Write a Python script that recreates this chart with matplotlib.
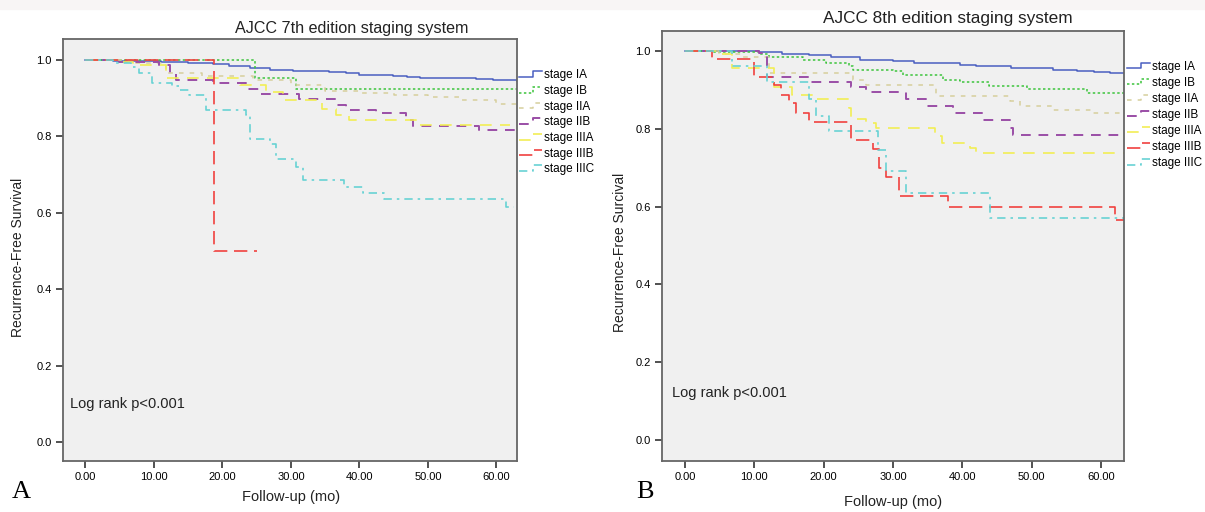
import matplotlib
matplotlib.use("Agg")
import matplotlib.pyplot as plt
from matplotlib.lines import Line2D
from matplotlib.legend_handler import HandlerLine2D
from matplotlib.patches import Rectangle

plt.rcParams['font.family'] = ['Liberation Sans', 'DejaVu Sans']

stages = ["stage IA", "stage IB", "stage IIA", "stage IIB", "stage IIIA", "stage IIIB", "stage IIIC"]

# AJCC 7th edition (panel A): step times (months) and survival
t7_IA = [0, 4, 8, 11, 15, 18.6, 21, 24, 27, 30.3, 33, 35.6, 38, 40, 43, 44.9, 47, 48.8, 52, 54.6, 57, 59.5, 63]
s7_IA = [1.0, 0.998, 0.997, 0.996, 0.993, 0.989, 0.985, 0.978, 0.975, 0.972, 0.970, 0.968, 0.965, 0.962,
         0.960, 0.958, 0.956, 0.954, 0.953, 0.952, 0.950, 0.947, 0.946]
t7_IB = [0, 24.8, 30.7, 63]
s7_IB = [1.0, 0.952, 0.925, 0.925]
t7_IIA = [0, 6.9, 11.8, 17, 24.4, 30, 35, 40, 45, 50, 54.6, 60, 63]
s7_IIA = [1.0, 0.991, 0.965, 0.958, 0.947, 0.935, 0.920, 0.913, 0.908, 0.902, 0.895, 0.885, 0.879]
t7_IIB = [0, 4, 10.8, 12.3, 13.2, 18.6, 23.5, 25.4, 31.2, 36.6, 38, 42.4, 46.8, 47.8, 57.5, 63]
s7_IIB = [1.0, 0.995, 0.987, 0.965, 0.947, 0.939, 0.925, 0.912, 0.899, 0.882, 0.870, 0.860, 0.842, 0.826,
          0.818, 0.818]
t7_IIIA = [0, 5, 6.9, 11.8, 22.5, 26.4, 28.8, 34.6, 36.6, 38.5, 48.5, 62]
s7_IIIA = [1.0, 0.996, 0.987, 0.952, 0.934, 0.917, 0.895, 0.873, 0.855, 0.842, 0.829, 0.829]
t7_IIIB = [0, 18.8, 25]
s7_IIIB = [1.0, 0.5, 0.5]
t7_IIIC = [0, 4, 6.7, 7.9, 9.8, 12.7, 13.7, 15.2, 17.6, 23.5, 24, 26.9, 27.8, 30.7, 31.7, 37.8, 40.5, 43.6,
           61.4, 62.5]
s7_IIIC = [1.0, 0.991, 0.982, 0.967, 0.940, 0.932, 0.921, 0.908, 0.870, 0.855, 0.794, 0.781, 0.741, 0.719,
           0.686, 0.668, 0.651, 0.636, 0.614, 0.614]

# AJCC 8th edition (panel B)
t8_IA = [0, 5, 10.7, 14, 17.9, 21, 25.2, 30, 33, 36.2, 39.6, 42, 44.4, 47, 49.3, 53, 56.5, 59, 61.3, 63.5]
s8_IA = [1.0, 0.999, 0.996, 0.993, 0.989, 0.984, 0.977, 0.973, 0.970, 0.968, 0.963, 0.961, 0.960, 0.957,
         0.955, 0.952, 0.949, 0.946, 0.943, 0.943]
t8_IB = [0, 4, 10.7, 12.1, 17, 20.3, 23.7, 24.2, 30, 31.4, 37.2, 39.6, 43.9, 49.3, 57.9, 63.5]
s8_IB = [1.0, 0.996, 0.992, 0.983, 0.977, 0.968, 0.961, 0.951, 0.947, 0.938, 0.925, 0.921, 0.910, 0.901,
         0.891, 0.891]
t8_IIA = [0, 4.9, 8.3, 12.1, 24.2, 26.1, 36.2, 46.8, 48.3, 53.1, 58.9, 63.5]
s8_IIA = [1.0, 0.992, 0.985, 0.944, 0.925, 0.913, 0.883, 0.870, 0.859, 0.848, 0.841, 0.841]
t8_IIB = [0, 10.7, 11.2, 11.9, 18.2, 24, 26.1, 31.9, 34.8, 38.7, 43, 46.8, 47.3, 63.5]
s8_IIB = [1.0, 0.994, 0.987, 0.934, 0.921, 0.907, 0.893, 0.876, 0.859, 0.841, 0.823, 0.801, 0.783, 0.783]
t8_IIIA = [0, 4.9, 6.8, 12.9, 15.5, 18.4, 23.7, 24, 26.1, 27.6, 36, 37, 41.1, 42, 63.5]
s8_IIIA = [1.0, 0.992, 0.955, 0.908, 0.887, 0.877, 0.854, 0.824, 0.814, 0.801, 0.781, 0.763, 0.750, 0.737,
           0.737]
t8_IIIB = [0, 3.9, 10, 12.9, 13.8, 15, 16, 17.9, 24, 27.1, 28, 29, 30.9, 37.9, 62, 63.5]
s8_IIIB = [1.0, 0.979, 0.932, 0.913, 0.887, 0.865, 0.841, 0.818, 0.771, 0.747, 0.698, 0.675, 0.628, 0.598,
           0.566, 0.566]
t8_IIIC = [0, 6.8, 11.9, 17.9, 18.9, 20.8, 27.8, 29, 31.9, 44, 63.5]
s8_IIIC = [1.0, 0.960, 0.919, 0.876, 0.833, 0.793, 0.745, 0.692, 0.634, 0.571, 0.571]

xticks = [0, 10, 20, 30, 40, 50, 60]
yticks = [0.0, 0.2, 0.4, 0.6, 0.8, 1.0]

styles = [
    dict(color='#4A5FC1', ls='-', lw=1.1),
    dict(color='#3CC43C', ls=(0, (1.6, 1.6)), lw=1.1),
    dict(color='#D6CF9C', ls=(0, (3, 4)), lw=1.1),
    dict(color='#9A4EA6', ls=(0, (5, 4)), lw=1.4),
    dict(color='#F2EE55', ls=(0, (7, 5)), lw=1.2),
    dict(color='#F0413F', ls=(0, (8, 4)), lw=1.2),
    dict(color='#68D2D4', ls=(0, (5, 3, 1.5, 3)), lw=1.2),
]


class StepHandler(HandlerLine2D):
    def create_artists(self, legend, orig_handle, xdescent, ydescent, width, height, fontsize, trans):
        x0, x1 = -xdescent, -xdescent + width
        xm = x0 + 0.6 * width
        ylo, yhi = -ydescent + 0.15 * height, -ydescent + 0.85 * height
        line = Line2D([x0, xm, xm, x1], [ylo, ylo, yhi, yhi])
        self.update_prop(line, orig_handle, legend)
        line.set_transform(trans)
        return [line]


fig = plt.figure(figsize=(12.05, 5.12), dpi=100)
fig.patches.append(Rectangle((0, 1 - 9 / 512), 1, 9 / 512, transform=fig.transFigure,
                             color='#F8F5F5', zorder=0))


def panel(rect, series, xlim, ylim, title, title_xy, ylabel, ylabel_xy, xlabel_xy, letter, letter_xy,
          leg_anchor, leg_space, text_xy, title_size):
    ax = fig.add_axes(rect)
    ax.set_facecolor('#F0F0F0')
    for i, (t, s) in enumerate(series):
        st = styles[i]
        ax.step(t, s, where='post', color=st['color'], linestyle=st['ls'], lw=st['lw'], label=stages[i])
    ax.set_xlim(*xlim)
    ax.set_ylim(*ylim)
    ax.set_xticks(xticks)
    ax.set_xticklabels(["%.2f" % v for v in xticks], fontsize=8)
    ax.set_yticks(yticks)
    ax.set_yticklabels(["%.1f" % v for v in yticks], fontsize=8)
    ax.tick_params(direction='out', length=5, width=1.2, color='#333333', pad=3)
    for sp in ax.spines.values():
        sp.set_color('#666666')
        sp.set_linewidth(1.3)
    ax.text(text_xy[0], text_xy[1], "Log rank p<0.001", transform=ax.transAxes, fontsize=10.5,
            color='#222222')
    ax.legend(handler_map={Line2D: StepHandler()}, loc='upper left', bbox_to_anchor=leg_anchor,
              frameon=False, fontsize=8.5, handlelength=2.0, handletextpad=0.1, labelspacing=leg_space,
              borderpad=0, borderaxespad=0)
    fig.text(title_xy[0] / 1205, 1 - title_xy[1] / 512, title, ha='center', va='center',
             fontsize=title_size, color='#222222')
    fig.text(ylabel_xy[0] / 1205, 1 - ylabel_xy[1] / 512, ylabel, ha='center', va='center',
             rotation=90, fontsize=10, color='#222222')
    fig.text(xlabel_xy[0] / 1205, 1 - xlabel_xy[1] / 512, "Follow-up (mo)", ha='center', va='center',
             fontsize=10.5, color='#222222')
    fig.text(letter_xy[0] / 1205, 1 - letter_xy[1] / 512, letter, ha='left', va='center',
             fontsize=19, family=['Liberation Serif', 'DejaVu Serif'])
    return ax


series7 = [(t7_IA, s7_IA), (t7_IB, s7_IB), (t7_IIA, s7_IIA), (t7_IIB, s7_IIB),
           (t7_IIIA, s7_IIIA), (t7_IIIB, s7_IIIB), (t7_IIIC, s7_IIIC)]
series8 = [(t8_IA, s8_IA), (t8_IB, s8_IB), (t8_IIA, s8_IIA), (t8_IIB, s8_IIB),
           (t8_IIIA, s8_IIIA), (t8_IIIB, s8_IIIB), (t8_IIIC, s8_IIIC)]

panel([63 / 1205, 51 / 512, 454 / 1205, 422 / 512], series7, (-3.26, 63.0), (-0.05, 1.055),
      "AJCC 7th edition staging system", (352, 28), "Recurrence-Free Survival", (18, 257), (291, 497),
      "A", (12, 492), (1.004, 0.928), 0.31, (0.015, 0.125), 11.6)

panel([662 / 1205, 51 / 512, 462 / 1205, 430 / 512], series8, (-3.3, 63.3), (-0.054, 1.051),
      "AJCC 8th edition staging system", (948, 18), "Recurrence-Free Surcival", (620, 252), (893, 502),
      "B", (636, 492), (1.006, 0.931), 0.34, (0.022, 0.148), 12.4)

fig.savefig("out.png", dpi=100)
